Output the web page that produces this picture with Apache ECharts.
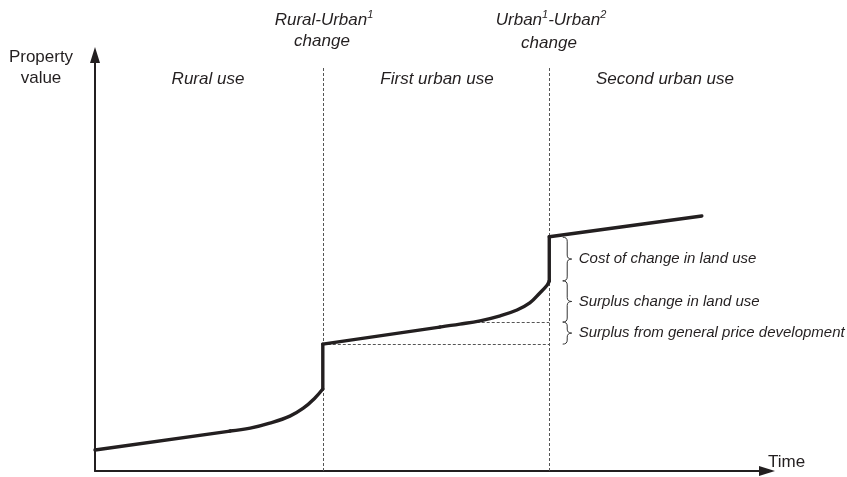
<!DOCTYPE html>
<html>
<head>
<meta charset="utf-8">
<script src="https://cdn.jsdelivr.net/npm/echarts@6/dist/echarts.min.js"></script>
<style>html,body{margin:0;padding:0;background:#fff}#c{width:847px;height:477px}</style>
</head>
<body>
<div id="c"></div>
<script>
// Property value path over time (abstract units: time 0-100, value 0-100)
const pathTime  = [0, 20.1, 23.1, 26.0, 29.0, 31.0, 32.7, 33.9, 33.9, 51.3, 54.3, 57.3, 60.3, 62.8, 64.7, 66.2, 67.3, 67.6, 67.6, 90.3];
const pathValue = [5.05, 9.6, 10.3, 11.5, 13.2, 15.1, 17.5, 19.7, 30.5, 34.6, 35.3, 36.1, 37.3, 38.7, 40.4, 42.8, 44.7, 45.7, 56.3, 61.3];
// index ranges of the path pieces: [start, end, smooth]
const pathPieces = [[0, 1, false], [1, 7, true], [7, 8, false], [8, 9, false], [9, 17, true], [17, 18, false], [18, 19, false]];

// Phase dividers (time) and their top
const dividerTime = [33.9, 67.6];
const dividerTop = 96.9;

// Horizontal reference levels
const guideValue = [30.5, 35.8];
const guideStart = [33.9, 56.8];
const guideEnd = 67.6;

// Braces
const braceTime = 69.6;
const braceBounds = [56.2, 45.7, 35.8, 30.5];
const braceLabels = ['Cost of change in land use', 'Surplus change in land use', 'Surplus from general price development'];

const FONT = '"Liberation Sans", Arial, sans-serif';
const INK = '#231f20';

const chart = echarts.init(document.getElementById('c'), null, {renderer: 'canvas'});

const pathData = pathTime.map((t, i) => [t, pathValue[i]]);
const markData = [];
dividerTime.forEach(t => markData.push([{coord: [t, 0]}, {coord: [t, dividerTop]}]));
guideValue.forEach((v, i) => markData.push([{coord: [guideStart[i], v]}, {coord: [guideEnd, v]}]));

const braceData = braceLabels.map((lab, i) => [braceTime, braceBounds[i], braceBounds[i + 1], i]);

const axisCommon = {
  type: 'value', min: 0, max: 100,
  axisLine: {show: true, symbol: ['none', 'triangle'], symbolSize: [10, 16], lineStyle: {color: INK, width: 2}},
  axisTick: {show: false}, axisLabel: {show: false}, splitLine: {show: false}
};

function txt(x, y, text, opts) {
  return {
    type: 'text', x: x, y: y, silent: true,
    style: Object.assign({text: text, font: 'italic 17px ' + FONT, fill: INK, align: 'center', verticalAlign: 'middle'}, opts || {})
  };
}

const supRich = {
  a: {fontSize: 17, fontStyle: 'italic', fontFamily: FONT, lineHeight: 22, fill: INK},
  s: {fontSize: 11, fontStyle: 'italic', fontFamily: FONT, lineHeight: 11, verticalAlign: 'top', fill: INK}
};

const pathSeries = pathPieces.map((pc, k) => ({
  type: 'line', data: pathData.slice(pc[0], pc[1] + 1), symbol: 'none',
  smooth: pc[2] ? 0.4 : false, z: 5,
  lineStyle: {color: INK, width: 3.4, cap: 'round', join: 'round'},
  markLine: k === 0 ? {
    silent: true, symbol: ['none', 'none'], label: {show: false},
    lineStyle: {color: '#555', width: 1, type: [3, 2]},
    data: markData, z: 1
  } : undefined
}));

chart.setOption({
  animation: false,
  backgroundColor: '#fff',
  grid: {left: 95, right: 80, top: 55, bottom: 6},
  xAxis: axisCommon,
  yAxis: axisCommon,
  graphic: [
    txt(41, 57, 'Property', {font: '17px ' + FONT}),
    txt(41, 78, 'value', {font: '17px ' + FONT}),
    txt(768, 462, 'Time', {font: '17px ' + FONT, align: 'left'}),
    txt(208, 79, 'Rural use'),
    txt(437, 79, 'First urban use'),
    txt(665, 79, 'Second urban use'),
    {type: 'text', x: 324, y: 20, silent: true, style: {text: '{a|Rural-Urban}{s|1}', rich: supRich, align: 'center', verticalAlign: 'middle'}},
    txt(322, 41, 'change'),
    {type: 'text', x: 551, y: 20, silent: true, style: {text: '{a|Urban}{s|1}{a|-Urban}{s|2}', rich: supRich, align: 'center', verticalAlign: 'middle'}},
    txt(549, 43, 'change')
  ],
  series: pathSeries.concat([
    {
      type: 'custom', data: braceData, silent: true, z: 4,
      renderItem: function (params, api) {
        const p1 = api.coord([api.value(0), api.value(1)]);
        const p2 = api.coord([api.value(0), api.value(2)]);
        const x = p1[0], y1 = p1[1], y2 = p2[1], ym = (y1 + y2) / 2, w = 9, h = w / 2, r = 4;
        const ls = {stroke: '#333', lineWidth: 1, fill: 'none'};
        return {
          type: 'group',
          children: [
            {type: 'bezierCurve', shape: {x1: x, y1: y1, cpx1: x + h, cpy1: y1, x2: x + h, y2: y1 + r}, style: ls},
            {type: 'line', shape: {x1: x + h, y1: y1 + r, x2: x + h, y2: ym - r}, style: ls},
            {type: 'bezierCurve', shape: {x1: x + h, y1: ym - r, cpx1: x + h, cpy1: ym, x2: x + w, y2: ym}, style: ls},
            {type: 'bezierCurve', shape: {x1: x + w, y1: ym, cpx1: x + h, cpy1: ym, x2: x + h, y2: ym + r}, style: ls},
            {type: 'line', shape: {x1: x + h, y1: ym + r, x2: x + h, y2: y2 - r}, style: ls},
            {type: 'bezierCurve', shape: {x1: x + h, y1: y2 - r, cpx1: x + h, cpy1: y2, x2: x, y2: y2}, style: ls},
            {type: 'text', x: x + w + 7, y: ym, style: {text: braceLabels[api.value(3)], font: 'italic 15px ' + FONT, fill: INK, align: 'left', verticalAlign: 'middle'}}
          ]
        };
      }
    }
  ])
});
</script>
</body>
</html>
